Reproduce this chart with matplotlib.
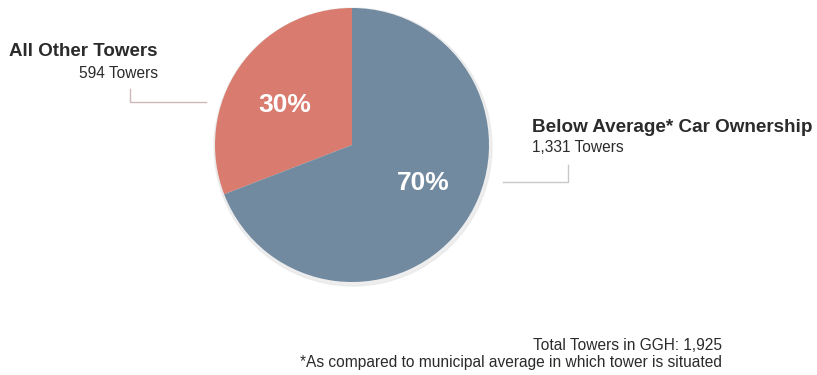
import matplotlib.pyplot as plt
import numpy as np
from matplotlib.patches import Circle

# data
categories = ["All Other Towers", "Below Average* Car Ownership"]
counts = [594, 1331]
count_labels = ["594 Towers", "1,331 Towers"]
pct_labels = ["30%", "70%"]
colors = ["#D97C6F", "#718AA0"]
total_note = "Total Towers in GGH: 1,925"
footnote = "*As compared to municipal average in which tower is situated"

W, H = 817, 375
plt.rcParams["font.family"] = ["Liberation Sans", "DejaVu Sans"]

fig = plt.figure(figsize=(W / 100, H / 100), dpi=100)
ax = fig.add_axes([0, 0, 1, 1])


def py(y):
    # pixel row from top -> data y
    return H - y


cx, cy, r = 352, py(145), 137

# faint shadow behind pie
ax.add_patch(Circle((cx + 1, cy - 2), r + 2, color="#e4e4e4", alpha=0.6, zorder=1))

wedges, texts = ax.pie(counts, colors=colors, startangle=90, counterclock=True,
                       center=(cx, cy), radius=r, labels=pct_labels,
                       wedgeprops=dict(linewidth=0, zorder=2),
                       textprops=dict(color="white", fontsize=19, fontweight="bold"),
                       frame=True)
# label placement (angle in degrees, distance as fraction of radius)
label_pos = [(149, 0.57), (-28, 0.59)]
for t, (ang, d) in zip(texts, label_pos):
    a = np.deg2rad(ang)
    t.set_position((cx + d * r * np.cos(a), cy + d * r * np.sin(a)))
    t.set_ha("center")
    t.set_va("center")
    t.set_zorder(3)
ax.set_xlim(0, W)
ax.set_ylim(0, H)
ax.set_aspect("equal")
ax.axis("off")

dark = "#2b2b2b"

# left label
ax.text(158, py(51), categories[0], ha="right", va="center", fontsize=13.5,
        fontweight="bold", color=dark)
ax.text(158, py(73), count_labels[0], ha="right", va="center", fontsize=11.2, color=dark)
ax.plot([130, 130, 206], [py(89), py(102), py(102)], color="#cdb9b9", lw=1)

# right label
ax.text(532, py(127), categories[1], ha="left", va="center", fontsize=13.6,
        fontweight="bold", color=dark)
ax.text(532, py(148), count_labels[1], ha="left", va="center", fontsize=11.2, color=dark)
ax.plot([503, 568, 568], [py(182), py(182), py(165)], color="#c8c8c8", lw=1)

# footer
ax.text(722, py(345), total_note, ha="right", va="center", fontsize=11.2, color=dark)
ax.text(722, py(363), footnote, ha="right", va="center", fontsize=11.2, color=dark)

fig.savefig("out.png", dpi=100, facecolor="white")
